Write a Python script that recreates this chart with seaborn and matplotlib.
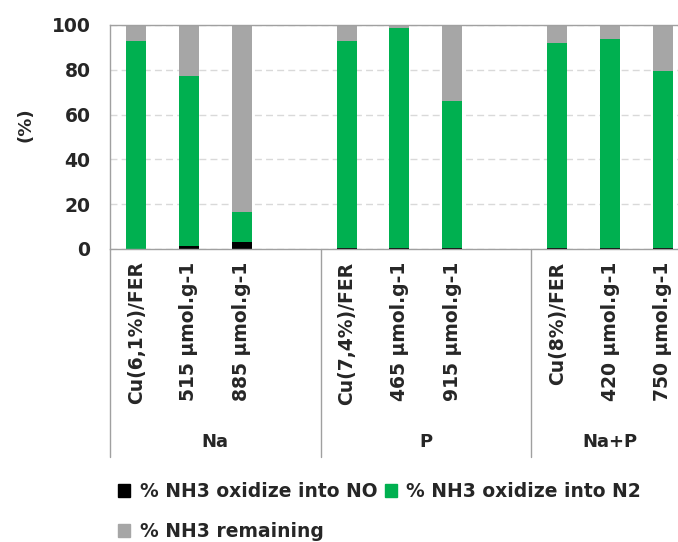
import numpy as np
import pandas as pd
import matplotlib
matplotlib.use("Agg")
import matplotlib.pyplot as plt
import seaborn as sns
from matplotlib.ticker import MultipleLocator
from matplotlib.patches import Patch

# data
groups = ["Na", "P", "Na+P"]
samples = [
    ["Cu(6,1%)/FER", "515 µmol.g-1", "885 µmol.g-1"],
    ["Cu(7,4%)/FER", "465 µmol.g-1", "915 µmol.g-1"],
    ["Cu(8%)/FER", "420 µmol.g-1", "750 µmol.g-1"],
]
pct_no = [0.0, 1.5, 3.0, 0.3, 0.3, 0.3, 0.3, 0.3, 0.3]
pct_n2 = [93.0, 75.7, 13.4, 92.7, 98.2, 65.7, 91.5, 93.4, 79.1]
pct_remaining = [7.0, 22.8, 83.6, 7.0, 1.5, 34.0, 8.2, 6.3, 20.6]

series_names = ["% NH3 oxidize into NO", "% NH3 oxidize into N2", "% NH3 remaining"]
colors = ["#000000", "#00b050", "#a6a6a6"]

sns.set_style("white")
plt.rcParams["font.family"] = ["DejaVu Sans"]
text_color = "#262626"

labels = [s for g in samples for s in g]
df = pd.DataFrame({
    "label": labels,
    "no": pct_no,
    "n2": pct_n2,
    "rem": pct_remaining,
})
df["lvl1"] = df["no"]
df["lvl2"] = df["no"] + df["n2"]
df["lvl3"] = df["lvl2"] + df["rem"]

# category order with an empty slot after each group
order = []
for i, g in enumerate(samples):
    order += g
    if i < len(samples) - 1:
        order.append("_gap%d" % i)

fig = plt.figure(figsize=(6.78, 5.42), dpi=100)
ax = fig.add_axes([0.1622, 0.5406, 0.854, 0.4133])

for col, c in zip(["lvl3", "lvl2", "lvl1"], colors[::-1]):
    sns.barplot(data=df, x="label", y=col, order=order, color=c,
                saturation=1, width=0.38, errorbar=None, linewidth=0, ax=ax)

ax.set_xlim(-0.5, len(order) - 0.5)
ax.set_ylim(0, 100)
ax.yaxis.set_major_locator(MultipleLocator(20))
ax.yaxis.set_minor_locator(MultipleLocator(10))
ax.yaxis.grid(True, which="major", linestyle=(0, (5, 3)), color="#d9d9d9", linewidth=1)
ax.set_axisbelow(True)

for s in ax.spines.values():
    s.set_color("#a0a0a0")
    s.set_linewidth(1)

ax.tick_params(axis="y", which="major", direction="in", length=5, color="#a0a0a0",
               pad=14, labelsize=13.5, labelcolor=text_color)
ax.tick_params(axis="y", which="minor", direction="in", length=3, color="#a0a0a0")
for t in ax.get_yticklabels():
    t.set_fontweight("bold")

ax.set_xticks(range(len(order)))
ax.set_xticklabels(["" if o.startswith("_gap") else o for o in order],
                   rotation=90, fontsize=13.5, fontweight="bold", color=text_color)
ax.tick_params(axis="x", length=0, pad=9)
ax.set_xlabel("")
ax.set_ylabel("(%)", fontsize=13, fontweight="bold", color=text_color)
ax.yaxis.set_label_coords(-0.13, 0.553)

# group separators and group labels under the axis
trans = ax.get_xaxis_transform()
start = 0
bounds = [-0.5]
for i, g in enumerate(samples):
    end = start + len(g)
    bounds.append(end - 0.5 if i == len(samples) - 1 else end + 0.5)
    start = end + 1
for b in bounds[:-1]:
    ax.plot([b, b], [0, -0.93], transform=trans, color="#a0a0a0", lw=1, clip_on=False)
for i, g in enumerate(groups):
    mid = (bounds[i] + bounds[i + 1]) / 2
    ax.text(mid, -0.86, g, transform=trans, ha="center", va="center",
            fontsize=13, fontweight="bold", color=text_color)

handles = [Patch(color=c, label=n) for c, n in zip(colors, series_names)]
leg = fig.legend(handles=[handles[0], handles[2], handles[1]], ncol=2,
                 loc="upper left", bbox_to_anchor=(0.163, 0.124), frameon=False,
                 handlelength=0.65, handleheight=0.65, handletextpad=0.5,
                 columnspacing=0.4, labelspacing=1.1, borderaxespad=0,
                 prop={"size": 13.5, "weight": "bold"})
for t in leg.get_texts():
    t.set_color(text_color)

fig.savefig("out.png", dpi=100)
